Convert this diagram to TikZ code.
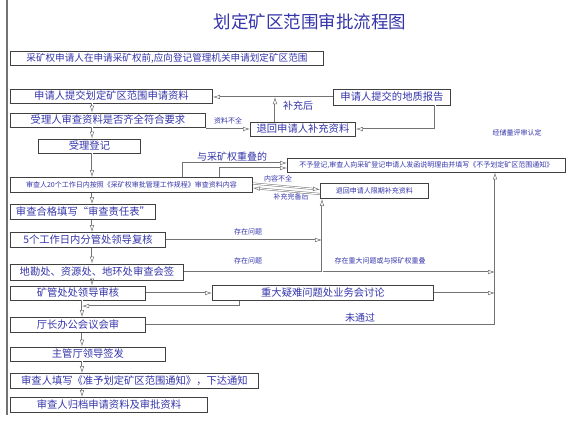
\documentclass[tikz,border=0pt]{standalone}
\usepackage{fontspec}
\newfontfamily\cjk{Noto Sans CJK SC}
\usetikzlibrary{arrows.meta}
\definecolor{txtblue}{RGB}{52,52,170}
\begin{document}
\begin{tikzpicture}[x=1pt,y=-1pt,
  box/.style={draw=black!75,line width=0.9pt,anchor=west,minimum height=14pt,inner sep=0.5pt,text=txtblue,font=\cjk\fontsize{10.3}{11}\selectfont},
  sbox/.style={box,font=\cjk\fontsize{7}{8}\selectfont},
  lbl/.style={text=txtblue,font=\cjk\fontsize{7}{8}\selectfont,inner sep=1pt},
  blbl/.style={lbl,font=\cjk\fontsize{10}{11}\selectfont},
  arr/.style={draw=black!55,double=white,double distance=1pt,line width=0.5pt,-{Latex[open,length=7pt,width=4.5pt]}},
  ln/.style={draw=black!55,line width=1.6pt}]
\useasboundingbox (0,0) rectangle (577,428);
\node[text=txtblue,font=\cjk\fontsize{17.5}{19}\selectfont] (title) at (310,22) {划定矿区范围审批流程图};
\coordinate (lt) at (7,0);
\coordinate (lb) at (7,415);
\draw[ln] (lt) -- (lb);
% main column
\node[box,minimum width=313pt,font=\cjk\fontsize{9.6}{10}\selectfont] (b1) at (10,58) {采矿权申请人在申请采矿权前,应向登记管理机关申请划定矿区范围};
\node[box,minimum width=202pt] (b2) at (10,96) {申请人提交划定矿区范围申请资料};
\node[box,minimum width=195pt] (b4) at (10,120) {受理人审查资料是否齐全符合要求};
\node[box,minimum width=102pt] (b6) at (38,146) {受理登记};
\node[sbox,minimum width=242pt,minimum height=15pt] (b8) at (10,185) {审查人20个工作日内按照《采矿权审批管理工作规程》审查资料内容};
\node[box,minimum width=145pt,minimum height=15pt] (b10) at (10,212) {审查合格填写“审查责任表”};
\node[box,minimum width=155pt,minimum height=15pt] (b11) at (10,240) {5个工作日内分管处领导复核};
\node[box,minimum width=173pt,minimum height=16pt] (b12) at (10,272) {地勘处、资源处、地环处审查会签};
\node[box,minimum width=135pt] (b13) at (10,293) {矿管处处领导审核};
\node[box,minimum width=135pt,minimum height=15pt] (b15) at (10,325) {厅长办公会议会审};
\node[box,minimum width=155pt] (b16) at (10,354) {主管厅领导签发};
\node[box,minimum width=248pt,minimum height=15pt] (b17) at (10,381) {审查人填写《准予划定矿区范围通知》，下达通知};
\node[box,minimum width=197pt,minimum height=15pt] (b18) at (10,405) {审查人归档申请资料及审批资料};
% side boxes
\node[box,minimum width=117pt,minimum height=16pt] (b3) at (333,97) {申请人提交的地质报告};
\node[box,minimum width=105pt] (b5) at (250,129) {退回申请人补充资料};
\node[sbox,minimum width=278pt] (b7) at (287,165) {不予登记,审查人向采矿登记申请人发函说明理由并填写《不予划定矿区范围通知》};
\node[sbox,minimum width=108pt,minimum height=15pt] (b9) at (320,191) {退回申请人限期补充资料};
\node[box,minimum width=221pt,minimum height=15pt] (b14) at (212,293) {重大疑难问题处业务会讨论};
% labels
\node[blbl] (l1) at (298,106) {补充后};
\node[lbl] (l2) at (228,121) {资料不全};
\node[lbl] (l3) at (517,133) {经储量评审认定};
\node[blbl] (l4) at (232,157) {与采矿权重叠的};
\node[lbl] (l5) at (278,179) {内容不全};
\node[lbl] (l6) at (291,197) {补充完备后};
\node[lbl] (l7) at (248,232) {存在问题};
\node[lbl] (l8) at (248,261) {存在问题};
\node[lbl] (l9) at (380,261) {存在重大问题或与探矿权重叠};
\node[blbl] (l10) at (360,318) {未通过};
% connectors
\coordinate (cx) at (92,0);
\coordinate (cy) at (82,0);
\foreach \a/\b in {b2/b4,b4/b6,b6/b8,b8/b10,b10/b11,b11/b12,b12/b13}{\draw[arr] (\a.south -| cx) -- (\b.north -| cx);}
\foreach \a/\b in {b13/b15,b15/b16,b16/b17,b17/b18}{\draw[arr] (\a.south -| cy) -- (\b.north -| cy);}
\coordinate (ux) at (275,0);
\coordinate (gx) at (435,0);
\draw[arr] (b3.west) -- (b3.west -| b2.east);
\draw[arr] (b5.north -| ux) -- (ux |- b3.west);
\draw[arr] (b3.south -| gx) |- (b5.east);
\draw[arr] (b4.east |- b5.west) -- (b5.west);
\coordinate (ox1) at (183,0);
\coordinate (ox2) at (220,0);
\draw[arr] (b8.north -| ox1) |- ([yshift=2pt]b7.west);
\draw[arr] (b8.north -| ox2) |- ([yshift=-3pt]b7.west);
\draw[arr] ([yshift=1.5pt]b8.east) -- ([yshift=1.5pt]b9.west);
\draw[arr] ([yshift=-3pt]b9.west) -- ([yshift=-3pt]b8.east);
\coordinate (mx) at (322,0);
\coordinate (rx) at (495,0);
\draw[arr] (b11.east) -- (b11.east -| mx);
\draw[arr] (b12.east) -- (b12.east -| rx);
\draw[arr] (b12.east -| mx) -- (b9.south -| mx);
\draw[arr] (b13.east) -- (b14.west);
\draw[arr] (b14.east) -- (b14.east -| rx);
\draw[arr] (b15.east) -| (rx |- b7.south);
\coordinate (bk) at (240,0);
\coordinate (j) at (82,306);
\draw[arr] (b14.south -| bk) |- (j);
\end{tikzpicture}
\end{document}
